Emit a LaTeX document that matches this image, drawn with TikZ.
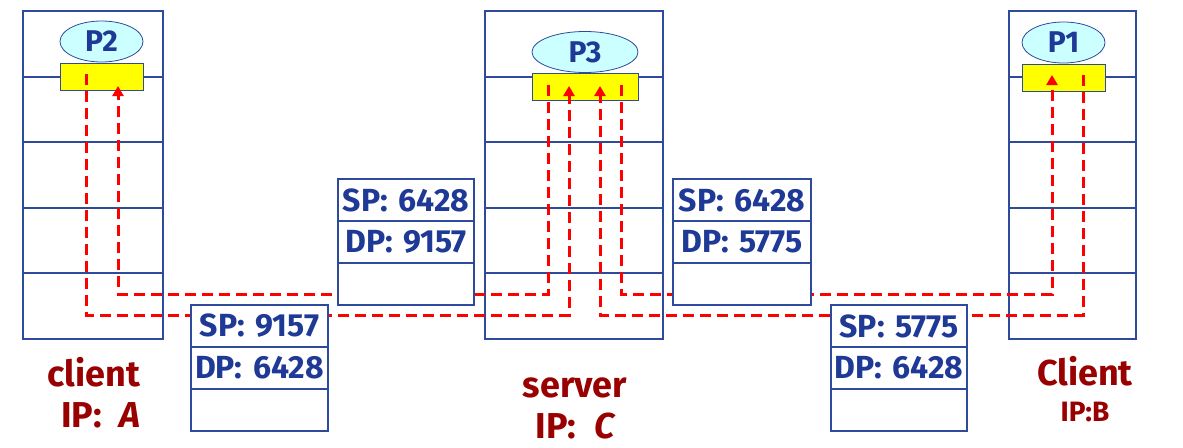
\documentclass[tikz,border=0pt]{standalone}
\usepackage{fontspec}
\setmainfont{Fira Sans}
\usetikzlibrary{shapes.geometric,arrows.meta}
\definecolor{hostblue}{HTML}{2D4A9C}
\definecolor{txtblue}{HTML}{1F3A96}
\definecolor{lblred}{HTML}{990000}
\definecolor{procfill}{HTML}{CCFFFF}
\definecolor{sockfill}{HTML}{FFFF00}
\definecolor{flowred}{HTML}{FF0000}
\tikzset{
  hostbox/.style={draw=hostblue, line width=1.1pt, fill=white, inner sep=0pt},
  hostline/.style={draw=hostblue, line width=1.1pt},
  proc/.style={ellipse, draw=hostblue, line width=0.8pt, fill=procfill, inner sep=0pt,
    font=\bfseries\fontsize{30}{30}\selectfont, text=txtblue},
  sock/.style={draw=hostblue, line width=1pt, fill=sockfill, inner sep=0pt},
  pktrow/.style={draw=hostblue, line width=1.1pt, fill=white, inner sep=0pt,
    minimum height=42pt, font=\bfseries\fontsize{32}{32}\selectfont, text=txtblue},
  flow/.style={draw=flowred, line width=3pt, dash pattern=on 11pt off 6pt},
  flowarrow/.style={flow, -{Triangle[width=11pt,length=10pt]}},
  lbl/.style={anchor=base, text=lblred, font=\bfseries\fontsize{36}{36}\selectfont, inner sep=0pt},
}
\begin{document}
\begin{tikzpicture}[x=1pt,y=-1pt]
\useasboundingbox (0,0) rectangle (1183,447);
% hosts
\node[hostbox, minimum width=140pt, minimum height=328pt] (hostA) at (93,175) {};
\node[hostbox, minimum width=178pt, minimum height=328pt] (hostC) at (574,175) {};
\node[hostbox, minimum width=127pt, minimum height=328pt] (hostB) at (1072.5,175) {};
\foreach \h in {hostA,hostC,hostB}{
  \foreach \yy in {77,142,208,273}{
    \draw[hostline] (\h.west |- 0,\yy) -- (\h.east |- 0,\yy);
  }
}
% processes
\node[proc, minimum width=83pt, minimum height=41pt] (P2) at (101.5,41.5) {P2};
\node[proc, minimum width=106pt, minimum height=41pt] (P3) at (585,52) {P3};
\node[proc, minimum width=83pt, minimum height=41pt] (P1) at (1063.5,42.5) {P1};
% sockets
\node[sock, minimum width=83pt, minimum height=27pt] (sA) at (101.5,76.5) {};
\node[sock, minimum width=106pt, minimum height=27pt] (sC) at (585,86.5) {};
\node[sock, minimum width=83pt, minimum height=27pt] (sB) at (1063.5,77.5) {};
% flow coordinates
\coordinate (a1) at (86,74);
\coordinate (a2) at (118,86);
\coordinate (c1) at (548,85);
\coordinate (c2) at (569,86);
\coordinate (c3) at (600,86);
\coordinate (c4) at (621,85);
\coordinate (b1) at (1052,75);
\coordinate (b2) at (1083,75);
% flows
\draw[flowarrow] (a1) -- (a1 |- 0,315) -- (c2 |- 0,315) -- (c2);
\draw[flowarrow] (c1) -- (c1 |- 0,294) -- (a2 |- 0,294) -- (a2);
\draw[flowarrow] (b2) -- (b2 |- 0,315) -- (c3 |- 0,315) -- (c3);
\draw[flowarrow] (c4) -- (c4 |- 0,294) -- (b1 |- 0,294) -- (b1);
% packets
\node[pktrow, minimum width=137pt] (k1a) at (259.5,326) {SP:\,\,9157};
\node[pktrow, minimum width=137pt] (k1b) at (259.5,368) {DP:\,\,6428};
\node[pktrow, minimum width=137pt] (k1c) at (259.5,410) {};
\node[pktrow, minimum width=136pt] (k2a) at (406,200) {SP:\,\,6428};
\node[pktrow, minimum width=136pt] (k2b) at (406,242) {DP:\,\,9157};
\node[pktrow, minimum width=136pt] (k2c) at (406,284) {};
\node[pktrow, minimum width=138pt] (k3a) at (742,200) {SP:\,\,6428};
\node[pktrow, minimum width=138pt] (k3b) at (742,242) {DP:\,\,5775};
\node[pktrow, minimum width=138pt] (k3c) at (742,284) {};
\node[pktrow, minimum width=136pt] (k4a) at (899,326) {SP:\,\,5775};
\node[pktrow, minimum width=136pt] (k4b) at (899,368) {DP:\,\,6428};
\node[pktrow, minimum width=136pt] (k4c) at (899,410) {};
% labels
\node[lbl] (lA1) at (94,386) {client};
\node[lbl] (lA2) at (101,427) {IP:\,\,\,\textit{A}};
\node[lbl] (lC1) at (575,397) {server};
\node[lbl] (lC2) at (576,438) {IP:\,\,\,\textit{C}};
\node[lbl] (lB1) at (1085,385) {Client};
\node[lbl, font=\bfseries\fontsize{28}{28}\selectfont] (lB2) at (1085,421) {IP:B};
\end{tikzpicture}
\end{document}
